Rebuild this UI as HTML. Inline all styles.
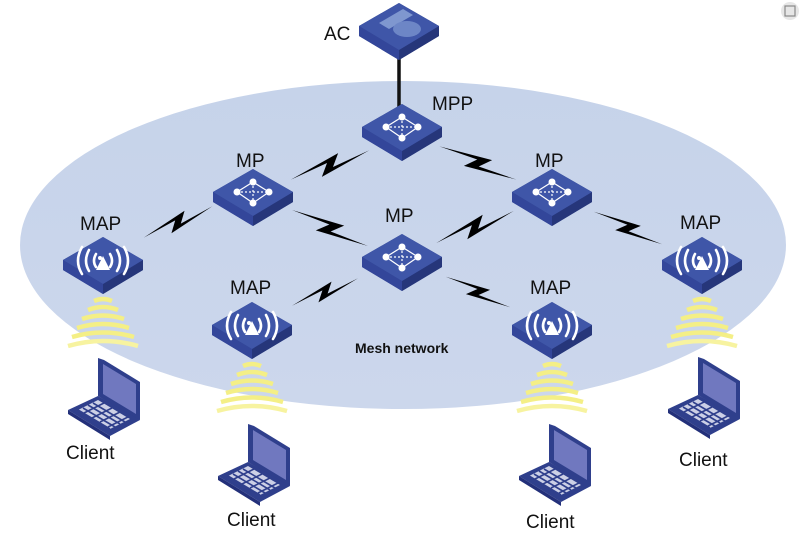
<!DOCTYPE html>
<html><head><meta charset="utf-8"><style>
html,body{margin:0;padding:0;background:#fff;}
svg{display:block}
text{font-family:"Liberation Sans",sans-serif;fill:#111;}
</style></head><body>
<svg width="800" height="536" viewBox="0 0 800 536" xmlns="http://www.w3.org/2000/svg">
<defs>
  <linearGradient id="ell" x1="0" y1="0" x2="0" y2="1">
    <stop offset="0" stop-color="#c6d3ea"/><stop offset="1" stop-color="#ccd7ec"/>
  </linearGradient>
  <g id="box">
    <polygon points="-40,-1 0,-24 40,-1 40,9 0,33 -40,9" fill="#2d3f8a"/>
    <polygon points="-40,-1 0,23 0,33 -40,9" fill="#33469a"/>
    <polygon points="0,23 40,-1 40,9 0,33" fill="#26367a"/>
    <polygon points="-40,-1 0,-24 40,-1 0,23" fill="#3f56a8"/>
  </g>
  <g id="mp">
    <use href="#box"/>
    <g stroke="#fff" stroke-width="1.2" fill="none">
      <polygon points="-16,-1 0,-11 16,-1 0,10"/>
      <line x1="-16" y1="-1" x2="16" y2="-1" stroke-dasharray="2,2"/>
      <line x1="0" y1="-11" x2="0" y2="10" stroke-dasharray="2,2"/>
    </g>
    <g fill="#fff">
      <circle cx="-16" cy="-1" r="3.5"/><circle cx="16" cy="-1" r="3.5"/>
      <circle cx="0" cy="-11" r="3.5"/><circle cx="0" cy="10" r="3.5"/>
    </g>
  </g>
  <g id="map">
    <use href="#box"/>
    <polygon points="0,-5 -7,9 7,9" fill="#fff"/>
    <g stroke="#fff" stroke-width="2.6" fill="none" stroke-linecap="round">
      <path d="M-7,-7 Q-11,0 -7,6"/><path d="M7,-7 Q11,0 7,6"/>
      <path d="M-14,-11 Q-20,0 -14,10"/><path d="M14,-11 Q20,0 14,10"/>
      <path d="M-21,-14 Q-29,0 -21,13"/><path d="M21,-14 Q29,0 21,13"/>
    </g>
    <circle cx="-3" cy="-3" r="2" fill="#fff"/>
  </g>
  <g id="wave" fill="none" stroke="#f4ef86" stroke-width="4.5">
    <path d="M-9,0 Q0,-4 9,0"/>
    <path d="M-15,9 Q0,3 15,9"/>
    <path d="M-21,18 Q0,11 21,18"/>
    <path d="M-26,27 Q0,19 26,27"/>
    <path d="M-31,36 Q0,27 31,36"/>
    <path d="M-35,45 Q0,35 35,45" stroke="#f7f3a0"/>
  </g>
  <g id="laptop">
    <polygon points="0,0 6,2 42,24 42,62 36,60 0,38" fill="#2f3f8c"/>
    <polygon points="5,6 38,26 38,56 5,36" fill="#7078bf"/>
    <polygon points="-30,52 0,38 42,62 12,78" fill="#2f3f8c"/>
    <polygon points="-30,52 12,78 12,82 -30,56" fill="#23307a"/>
    <polygon points="-20,52 0,42 32,61 12,71" fill="#e8eaf6" opacity="0.85"/>
    <g stroke="#2f3f8c" stroke-width="1.6">
      <line x1="-15" y1="50" x2="17" y2="69"/><line x1="-10" y1="47" x2="22" y2="66"/>
      <line x1="-5" y1="45" x2="27" y2="64"/><line x1="-20" y1="52" x2="12" y2="71"/>
      <line x1="-14" y1="55" x2="6" y2="45"/><line x1="-6" y1="60" x2="14" y2="50"/>
      <line x1="2" y1="64" x2="22" y2="54"/><line x1="10" y1="69" x2="30" y2="59"/>
    </g>
  </g>
  <g id="bolt"><polygon points="-42,-1 -2,-3 -12,8 42,1 2,3 12,-8" fill="#000"/></g>
</defs>

<ellipse cx="403" cy="245" rx="383" ry="164" fill="url(#ell)"/>

<line x1="399" y1="55" x2="399" y2="110" stroke="#111" stroke-width="3.5"/>

<g transform="translate(330,165) rotate(-22)"><use href="#bolt"/></g>
<g transform="translate(478,163) rotate(22)"><use href="#bolt"/></g>
<g transform="translate(178,222) rotate(-26) scale(0.9)"><use href="#bolt"/></g>
<g transform="translate(330,228) rotate(24)"><use href="#bolt"/></g>
<g transform="translate(475,227) rotate(-24)"><use href="#bolt"/></g>
<g transform="translate(628,228) rotate(24) scale(0.9)"><use href="#bolt"/></g>
<g transform="translate(325,292) rotate(-24) scale(0.85)"><use href="#bolt"/></g>
<g transform="translate(478,292) rotate(24) scale(0.85)"><use href="#bolt"/></g>

<g transform="translate(399,27)"><use href="#box"/>
  <polygon points="-20,-4 4,-18 14,-12 -10,2" fill="#7f97cf"/>
  <ellipse cx="8" cy="2" rx="14" ry="8" fill="#6d86c6"/>
</g>
<g transform="translate(402,128)"><use href="#mp"/></g>
<g transform="translate(253,193)"><use href="#mp"/></g>
<g transform="translate(552,193)"><use href="#mp"/></g>
<g transform="translate(402,258)"><use href="#mp"/></g>
<g transform="translate(103,261)"><use href="#map"/></g>
<g transform="translate(702,261)"><use href="#map"/></g>
<g transform="translate(252,326)"><use href="#map"/></g>
<g transform="translate(552,326)"><use href="#map"/></g>

<g transform="translate(103,301)"><use href="#wave"/></g>
<g transform="translate(702,301)"><use href="#wave"/></g>
<g transform="translate(252,366)"><use href="#wave"/></g>
<g transform="translate(552,366)"><use href="#wave"/></g>

<g transform="translate(98,358)"><use href="#laptop"/></g>
<g transform="translate(248,424)"><use href="#laptop"/></g>
<g transform="translate(549,424)"><use href="#laptop"/></g>
<g transform="translate(698,357)"><use href="#laptop"/></g>

<g font-size="19">
<text x="324" y="40">AC</text>
<text x="432" y="110">MPP</text>
<text x="236" y="167">MP</text>
<text x="535" y="167">MP</text>
<text x="385" y="222">MP</text>
<text x="80" y="230">MAP</text>
<text x="680" y="229">MAP</text>
<text x="230" y="294">MAP</text>
<text x="530" y="294">MAP</text>
<text x="66" y="459">Client</text>
<text x="227" y="526">Client</text>
<text x="526" y="528">Client</text>
<text x="679" y="466">Client</text>
</g>
<text x="355" y="353" font-size="14" font-weight="bold">Mesh network</text>

<circle cx="790" cy="11" r="9" fill="#e6e6e6"/>
<rect x="785" y="6" width="10" height="10" fill="none" stroke="#888" stroke-width="1.2"/>
</svg>
</body></html>
